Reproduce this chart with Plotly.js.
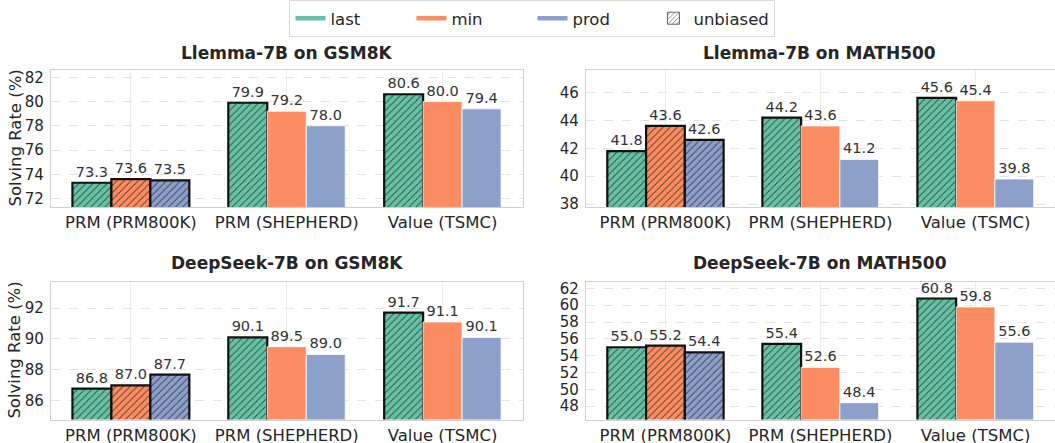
<!DOCTYPE html>
<html>
<head>
<meta charset="utf-8">
<script src="https://cdn.plot.ly/plotly-3.0.1.min.js"></script>
<style>html,body{margin:0;padding:0;background:#fff;}#chart{width:1055px;height:443px;}</style>
</head>
<body>
<div id="chart"></div>
<script>
// ---- data ----
const categories = ['PRM (PRM800K)', 'PRM (SHEPHERD)', 'Value (TSMC)'];
const seriesNames = ['last', 'min', 'prod'];

const llemmaGsm8kLast = [73.3, 79.9, 80.6];
const llemmaGsm8kMin  = [73.6, 79.2, 80.0];
const llemmaGsm8kProd = [73.5, 78.0, 79.4];

const llemmaMath500Last = [41.8, 44.2, 45.6];
const llemmaMath500Min  = [43.6, 43.6, 45.4];
const llemmaMath500Prod = [42.6, 41.2, 39.8];

const deepseekGsm8kLast = [86.8, 90.1, 91.7];
const deepseekGsm8kMin  = [87.0, 89.5, 91.1];
const deepseekGsm8kProd = [87.7, 89.0, 90.1];

const deepseekMath500Last = [55.0, 55.4, 60.8];
const deepseekMath500Min  = [55.2, 52.6, 59.8];
const deepseekMath500Prod = [54.4, 48.4, 55.6];

// which bars are "unbiased" (hatched, outlined)
const unbiasedLast = [true, true, true];
const unbiasedMin  = [true, false, false];
const unbiasedProd = [true, false, false];

const panelTitles = ['Llemma-7B on GSM8K', 'Llemma-7B on MATH500', 'DeepSeek-7B on GSM8K', 'DeepSeek-7B on MATH500'];
const yTitle = 'Solving Rate (%)';
const unbiasedLabel = 'unbiased';

// ---- styling ----
const colors = ['#66c2a5', '#fc8d62', '#8da0cb'];
const FONT = 'DejaVu Sans';
const TXT = '#262626';

const panels = [
  {title: panelTitles[0], vals: [llemmaGsm8kLast, llemmaGsm8kMin, llemmaGsm8kProd]},
  {title: panelTitles[1], vals: [llemmaMath500Last, llemmaMath500Min, llemmaMath500Prod]},
  {title: panelTitles[2], vals: [deepseekGsm8kLast, deepseekGsm8kMin, deepseekGsm8kProd]},
  {title: panelTitles[3], vals: [deepseekMath500Last, deepseekMath500Min, deepseekMath500Prod]}
];
const unbiased = [unbiasedLast, unbiasedMin, unbiasedProd];

const W = 1055, H = 443;
const xDomains = [[51/W, 522.5/W], [586/W, 1]];
const yDomains = [[(H-207)/H, (H-70)/H], [(H-419.5)/H, (H-281.7)/H]];

const traces = [];
const layout = {
  width: W, height: H,
  margin: {l: 0, r: 0, t: 0, b: 0},
  paper_bgcolor: '#ffffff', plot_bgcolor: '#ffffff',
  font: {family: FONT, color: TXT, size: 14},
  barmode: 'group', bargap: 0.25, bargroupgap: 0,
  showlegend: true,
  legend: {
    orientation: 'h', x: 0.5047, xanchor: 'center', y: 1.0, yanchor: 'top',
    bordercolor: '#d9d9d9', borderwidth: 1, bgcolor: '#ffffff',
    font: {family: FONT, size: 16.5, color: TXT},
    entrywidth: 76, entrywidthmode: 'pixels', traceorder: 'normal'
  },
  annotations: [],
  uniformtext: {mode: false}
};

panels.forEach((p, i) => {
  const col = i % 2, row = Math.floor(i / 2);
  const n = i + 1;
  const xa = 'x' + (n === 1 ? '' : n), ya = 'y' + (n === 1 ? '' : n);
  const allVals = [].concat(...p.vals);
  const lo = Math.min(...allVals) - 2, hi = Math.max(...allVals) + 2;
  p.vals.forEach((v, s) => {
    traces.push({
      type: 'bar', x: categories, y: v, name: seriesNames[s],
      xaxis: xa, yaxis: ya, showlegend: false,
      marker: {
        color: colors[s],
        line: {
          color: unbiased[s].map(u => u ? '#111111' : '#ffffff'),
          width: unbiased[s].map(u => u ? 2.2 : 0.8)
        },
        pattern: {
          shape: unbiased[s].map(u => u ? '/' : ''),
          bgcolor: colors[s],
          fgcolor: '#1a1a1a', fgopacity: 0.7, size: 5, solidity: 0.18
        }
      },
      texttemplate: '%{y:.1f}', textposition: 'outside', cliponaxis: false,
      constraintext: 'none',
      textfont: {family: FONT, size: 14.5, color: '#333333'},
      hoverinfo: 'skip'
    });
  });
  layout['xaxis' + (n === 1 ? '' : n)] = {
    domain: xDomains[col], anchor: ya, type: 'category',
    range: [-0.5125, 2.5125],
    showline: true, mirror: true, linecolor: '#d0d0d0', linewidth: 1.2,
    showgrid: true, gridcolor: '#ececec', gridwidth: 1,
    ticks: '', tickfont: {family: FONT, size: 16.5, color: TXT},
    zeroline: false, fixedrange: true
  };
  layout['yaxis' + (n === 1 ? '' : n)] = {
    domain: yDomains[row], anchor: xa,
    range: [lo, hi], dtick: 2, tick0: 0,
    showline: true, mirror: true, linecolor: '#d0d0d0', linewidth: 1.2,
    showgrid: true, gridcolor: '#e3e3e3', gridwidth: 1, griddash: 'dash',
    ticks: '', ticklabelstandoff: 3, tickfont: {family: FONT, size: 15, color: TXT},
    zeroline: false, fixedrange: true
  };
  layout.annotations.push({
    text: '<b>' + p.title + '</b>', xref: 'paper', yref: 'paper',
    x: (xDomains[col][0] + xDomains[col][1]) / 2 + (col === 1 ? -0.0005 : 0),
    y: row === 0 ? 1 - 53/H : 1 - 263/H, xanchor: 'center', yanchor: 'middle',
    showarrow: false, font: {family: FONT, size: 17, color: TXT}
  });
  if (col === 0) {
    layout.annotations.push({
      text: yTitle, xref: 'paper', yref: 'paper', textangle: -90,
      x: 15/W, y: (yDomains[row][0] + yDomains[row][1]) / 2,
      xanchor: 'center', yanchor: 'middle', showarrow: false,
      font: {family: FONT, size: 16.5, color: TXT}
    });
  }
});

// legend-only entries on a hidden subplot
layout.xaxis5 = {domain: [0, 0.01], anchor: 'y5', visible: false, fixedrange: true};
layout.yaxis5 = {domain: [0, 0.01], anchor: 'x5', visible: false, fixedrange: true};
seriesNames.forEach((nm, s) => {
  traces.push({
    type: 'scatter', mode: 'lines', x: [null], y: [null], name: nm,
    xaxis: 'x5', yaxis: 'y5', line: {color: colors[s], width: 4.5},
    hoverinfo: 'skip'
  });
});
traces.push({
  type: 'bar', x: [null], y: [null], name: unbiasedLabel,
  xaxis: 'x5', yaxis: 'y5',
  marker: {color: '#ffffff', line: {color: '#666666', width: 1},
           pattern: {shape: '/', bgcolor: '#ffffff', fgcolor: '#555555', size: 4, solidity: 0.2}},
  hoverinfo: 'skip'
});

Plotly.newPlot('chart', traces, layout, {displayModeBar: false, staticPlot: true});
</script>
</body>
</html>
